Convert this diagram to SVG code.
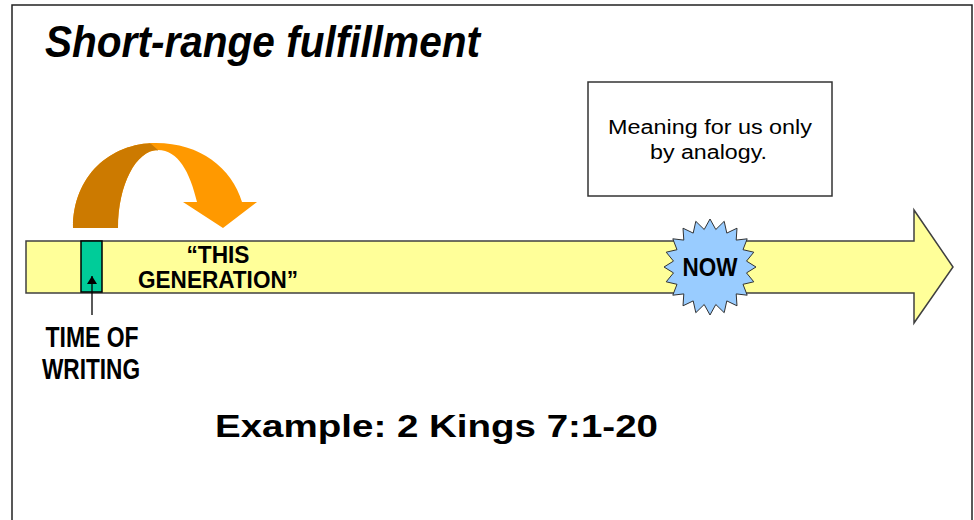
<svg xmlns="http://www.w3.org/2000/svg" width="974" height="520" viewBox="0 0 974 520">
  <defs>
    <style>
      .title { font-family: "Liberation Sans", Arial, sans-serif; font-weight: bold; font-style: italic; font-size: 45px; fill: #000; }
      .narrow { font-family: "Liberation Sans Narrow", "Liberation Sans", Arial, sans-serif; font-weight: bold; fill: #000; }
      .plain { font-family: "Liberation Sans", Arial, sans-serif; fill: #000; }
      .bold { font-family: "Liberation Sans", Arial, sans-serif; font-weight: bold; fill: #000; }
    </style>
    <marker id="head" viewBox="0 0 8 10" refX="8" refY="5" markerWidth="8" markerHeight="10" markerUnits="userSpaceOnUse" orient="auto">
      <path d="M0,0 L8,5 L0,10 Z" fill="#000"/>
    </marker>
    <!-- left (shaded) half of the curved arrow -->
    <clipPath id="leftHalf">
      <polygon points="60,120 150,120 150,143 158,150 158,240 60,240"/>
    </clipPath>
  </defs>

  <!-- page frame -->
  <rect x="12" y="5" width="960" height="530" fill="#fff" stroke="#222" stroke-width="1.5"/>

  <!-- title -->
  <text class="title" x="45" y="57" textLength="435" lengthAdjust="spacingAndGlyphs">Short-range fulfillment</text>

  <!-- timeline arrow -->
  <g id="timeline">
    <path d="M26,241 L914,241 L914,210 L953,267 L914,323 L914,293 L26,293 Z" fill="#FFFF99" stroke="#404040" stroke-width="1.5" stroke-linejoin="miter"/>
    <text class="narrow" x="218" y="263" font-size="23" text-anchor="middle" textLength="63" lengthAdjust="spacingAndGlyphs">“THIS</text>
    <text class="narrow" x="218" y="288" font-size="23" text-anchor="middle" textLength="160" lengthAdjust="spacingAndGlyphs">GENERATION”</text>
  </g>

  <!-- curved orange arrow over "this generation" -->
  <g id="jump">
    <path id="jumpShape" d="M73,228 C73,176 110,143 156,143 C200,143 232,168 242,202 L257,202 L223,228 L183,202 L197,202 C190,172 178,150 158,150 C136,150 118,185 118,228 Z" fill="#FF9900"/>
    <path d="M73,228 C73,176 110,143 156,143 C200,143 232,168 242,202 L257,202 L223,228 L183,202 L197,202 C190,172 178,150 158,150 C136,150 118,185 118,228 Z" fill="#CC7A00" clip-path="url(#leftHalf)"/>
  </g>

  <!-- time of writing marker -->
  <g id="writing">
    <rect x="81" y="241" width="21" height="51" fill="#00CC99" stroke="#000" stroke-width="1.5"/>
    <text class="narrow" x="92" y="347" font-size="29" text-anchor="middle" textLength="93" lengthAdjust="spacingAndGlyphs">TIME OF</text>
    <text class="narrow" x="91" y="379" font-size="29" text-anchor="middle" textLength="98" lengthAdjust="spacingAndGlyphs">WRITING</text>
  </g>

  <!-- now burst -->
  <g id="now">
    <polygon fill="#99CCFF" stroke="#333" stroke-width="1" points="710,219 715.8,229.5 724.2,221.3 726.8,233.1 737,228.2 736.2,240.1 747.2,238.8 743,249.7 753.8,252.2 746.5,261.1 756,267 746.5,272.9 753.8,281.8 743,284.3 747.2,295.2 736.2,293.9 737,305.8 726.8,300.9 724.2,312.7 715.8,304.5 710,315 704.2,304.5 695.8,312.7 693.2,300.9 683,305.8 683.8,293.9 672.8,295.2 677,284.3 666.2,281.8 673.5,272.9 664,267 673.5,261.1 666.2,252.2 677,249.7 672.8,238.8 683.8,240.1 683,228.2 693.2,233.1 695.8,221.3 704.2,229.5"/>
    <text class="narrow" x="710" y="276" font-size="26" text-anchor="middle" textLength="55" lengthAdjust="spacingAndGlyphs">NOW</text>
  </g>

  <!-- note box -->
  <g id="note">
    <rect x="588" y="82" width="244" height="114" fill="#fff" stroke="#333" stroke-width="1.5"/>
    <text class="plain" x="710" y="134" font-size="19.5" text-anchor="middle" textLength="204" lengthAdjust="spacingAndGlyphs">Meaning for us only</text>
    <text class="plain" x="708.5" y="159" font-size="19.5" text-anchor="middle" textLength="117" lengthAdjust="spacingAndGlyphs">by analogy.</text>
  </g>

  <!-- example reference -->
  <text class="bold" x="215" y="437" font-size="32" textLength="443" lengthAdjust="spacingAndGlyphs">Example: 2 Kings 7:1-20</text>

  <!-- connectors -->
  <g id="connectors">
    <line x1="92" y1="315" x2="92" y2="276" stroke="#000" stroke-width="1.3" marker-end="url(#head)"/>
  </g>
</svg>
